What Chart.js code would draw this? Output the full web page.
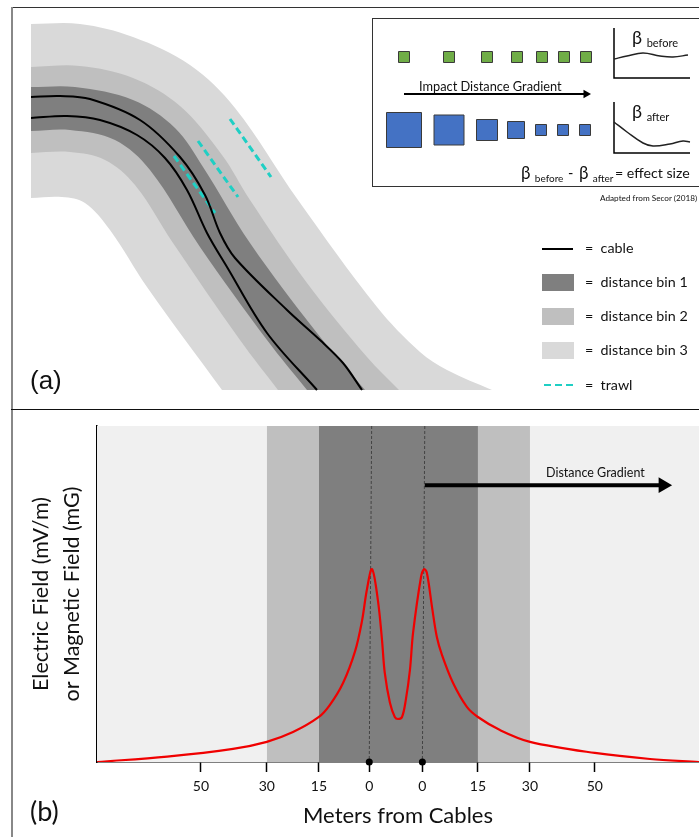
<!DOCTYPE html>
<html>
<head>
<meta charset="utf-8">
<script src="https://cdn.jsdelivr.net/npm/chart.js@4"></script>
<style>
  html, body { margin:0; padding:0; background:#fff; }
  #page { position:relative; width:699px; height:837px; overflow:hidden; font-family:Lato, sans-serif; color:#111; }
  canvas { position:absolute; left:0; }
  .t { position:absolute; white-space:nowrap; line-height:1; }
  .t sub { vertical-align:-0.3em; line-height:0; }
  .rule { position:absolute; }
  .sw { position:absolute; left:542px; width:32px; height:17px; }
</style>
</head>
<body>
<div id="page">
  <div class="rule" style="left:11px;top:7px;width:688px;height:1px;background:#333"></div>
  <div class="rule" style="left:11px;top:7px;width:2px;height:830px;background:#888"></div>
  <div class="rule" style="left:11px;top:409px;width:688px;height:1px;background:#111"></div>
  <div class="rule" style="left:372px;top:18px;width:327px;height:169px;border:1px solid #333;border-right:none;box-sizing:border-box"></div>

  <canvas id="mapChart" width="699" height="410" style="top:0"></canvas>
  <canvas id="fieldChart" width="699" height="427" style="top:410px"></canvas>

  <div class="t" style="left:632px;top:28px;font-size:18px">β <sub style="font-size:11px">before</sub></div>
  <div class="t" style="left:632px;top:102px;font-size:18px">β <sub style="font-size:11px">after</sub></div>
  <div class="t" style="left:419px;top:80px;font-size:12.8px">Impact Distance Gradient</div>
  <div class="t" style="left:521px;top:164px;font-size:17px">β <sub style="font-size:10px">before</sub></div>
  <div class="t" style="left:568px;top:166px;font-size:14.5px">-</div>
  <div class="t" style="left:579px;top:164px;font-size:17px">β <sub style="font-size:10px">after</sub></div>
  <div class="t" style="left:615px;top:166px;font-size:14.2px">= effect size</div>
  <div class="t" style="left:600px;top:194px;font-size:8.2px">Adapted from Secor (2018)</div>

  <div class="sw" style="top:274px;background:#7f7f7f"></div>
  <div class="sw" style="top:308px;background:#bfbfbf"></div>
  <div class="sw" style="top:342px;background:#d9d9d9"></div>
  <div class="rule" style="left:542px;top:248px;width:31px;height:2px;background:#000"></div>
  <div class="rule" style="left:544px;top:384px;width:29px;height:2px;background:repeating-linear-gradient(90deg,#1fcfc4 0 7px,transparent 7px 11px)"></div>
  <div class="t" style="left:585px;top:241px;font-size:14.3px">=&nbsp;&nbsp;cable</div>
  <div class="t" style="left:585px;top:275px;font-size:14.3px">=&nbsp;&nbsp;distance bin 1</div>
  <div class="t" style="left:585px;top:309px;font-size:14.3px">=&nbsp;&nbsp;distance bin 2</div>
  <div class="t" style="left:585px;top:343px;font-size:14.3px">=&nbsp;&nbsp;distance bin 3</div>
  <div class="t" style="left:585px;top:378px;font-size:14.3px">=&nbsp;&nbsp;trawl</div>

  <div class="t" style="left:30px;top:367px;font-size:26px;font-family:'Liberation Sans'">(a)</div>
  <div class="t" style="left:30px;top:797px;font-size:27px">(b)</div>
  <div class="t" style="left:546px;top:467px;font-size:12.5px">Distance Gradient</div>
</div>

<script>
// panel (a) in map units
var bin3Upper = [[31,24],[80,24],[133,37],[190,65],[235,108],[298,200],[377,307],[420,352],[447,370],[492,390]];
var bin3Lower = [[31,198],[62,197],[85,203],[110,230],[147,287],[222,390]];
var bin2Upper = [[31,67],[80,66],[133,78],[180,106],[222,155],[250,200],[307,283],[367,357],[399,390]];
var bin2Lower = [[31,153],[70,152],[105,160],[135,185],[173,243],[240,340],[278,390]];
var bin1Upper = [[31,87],[75,87],[133,100],[175,128],[203,167],[250,243],[317,333],[365,390]];
var bin1Lower = [[31,131],[70,130],[115,140],[150,170],[200,247],[267,340],[307,390]];
var cableA = [[31,97],[60,96],[90,99],[140,120],[180,157],[205,195],[220,233],[235,258],[287,310],[320,340],[343,363],[362,390]];
var cableB = [[31,118],[67,116],[100,120],[137,135],[165,158],[187,190],[207,233],[227,267],[267,333],[317,390]];
var trawls = [[[230,119],[271,177]],[[198,141],[238,197]],[[174,156],[215,213]]];

// inset
var greenX = [404,449,487,517,542,564,586];
var greenY = 57;
var greenSize = [11,11,11,11,11,11,11];
var blueX = [404,449,487,516,541,563,585];
var blueY = 130;
var blueSize = [35,30,21,17,11,11,11];
var betaBefore = [[614,59],[627,56],[643,53],[660,56],[673,57],[688,55]];
var betaAfter = [[614,122],[627,132],[643,143],[653,146],[670,144],[683,141],[690,142]];
var gradientArrow = [[404,94],[586,94]];

// panel (b): metres from the left cable, field in arbitrary units
var fieldX = [-79.1,-58.8,-39.7,-29.9,-22.3,-14.8,-11.6,-7.8,-4.3,-2.3,-0.9,0.6,2.3,3.5,4.3,5.8,7.2,8.1,9.3,10.4,11.6,12.5,14.8,15.7,16.5,18,19.4,20.9,24.1,28.1,31.3,37.7,46.4,65.2,81.2,95.4];
var fieldY = [0,1.6,3.9,6,8.9,13.4,17,23.5,33,42,51.2,57.4,48.2,36.3,26.5,17.6,13.4,12.8,13.4,18.5,27.4,38.4,55,57.4,56.3,46.1,37.2,31.8,23.5,16.4,13.4,9.5,6,2.7,0.9,0];
var tickValues = [-49,-29.9,-14.8,-0.2,15.2,31.3,46.4,65.2];
var tickLabels = ['50','30','15','0','0','15','30','50'];
var bin1Edges = [-14.8,31.3];
var bin2Edges = [-29.9,46.4];
var cableTop = [0.5,15.9];
var cableFoot = [-0.2,15.2];
var xMin = -79.13, xMax = 95.4, yTop = 100;

function pts(list) {
  return list.map(function (p) { return { x: p[0], y: p[1] }; });
}

// duplicated corners keep the spline from bowing along the cut ends
function band(upper, lower) {
  var u = pts(upper), l = pts(lower).reverse();
  return [u[0]].concat(u, [u[u.length - 1], l[0]], l, [l[l.length - 1]]);
}

function bandSet(upper, lower, color, order) {
  return { data: band(upper, lower), showLine: true, fill: 'shape', backgroundColor: color, borderWidth: 0, pointRadius: 0, tension: 0.35, order: order };
}

function lineSet(list, color, width, order, dash, tension) {
  return { data: pts(list), showLine: true, fill: false, borderColor: color, borderWidth: width, borderDash: dash || [], pointRadius: 0, tension: tension || 0, order: order };
}

function squares(xs, y, sizes, color) {
  return {
    data: xs.map(function (x) { return { x: x, y: y }; }),
    pointStyle: 'rect',
    pointRadius: sizes.map(function (s) { return s / Math.SQRT2; }),
    backgroundColor: color,
    borderColor: '#3a3a3a',
    borderWidth: 1,
    order: 1
  };
}

var bareOptions = {
  responsive: false,
  animation: false,
  events: [],
  plugins: { legend: { display: false }, tooltip: { enabled: false } }
};

var mapSets = [
  bandSet(bin3Upper, bin3Lower, '#d9d9d9', 9),
  bandSet(bin2Upper, bin2Lower, '#bfbfbf', 8),
  bandSet(bin1Upper, bin1Lower, '#7f7f7f', 7),
  lineSet(trawls[0], '#1fcfc4', 3, 6, [7, 4]),
  lineSet(trawls[1], '#1fcfc4', 3, 6, [7, 4]),
  lineSet(trawls[2], '#1fcfc4', 3, 6, [7, 4]),
  lineSet(cableA, '#000', 2, 5, null, 0.35),
  lineSet(cableB, '#000', 2, 5, null, 0.35),
  squares(greenX, greenY, greenSize, '#70ad47'),
  squares(blueX, blueY, blueSize, '#4472c4'),
  lineSet(betaBefore, '#222', 1.5, 2, null, 0.4),
  lineSet(betaAfter, '#222', 1.5, 2, null, 0.4),
  lineSet([[614,28],[614,78],[690,78]], '#000', 1.5, 2),
  lineSet([[614,102],[614,153],[690,153]], '#000', 1.5, 2),
  lineSet(gradientArrow, '#000', 2, 2),
  { data: pts([gradientArrow[1]]), pointStyle: 'triangle', pointRotation: 90, pointRadius: 5, backgroundColor: '#000', borderWidth: 0, order: 1 }
];

new Chart(document.getElementById('mapChart'), {
  type: 'scatter',
  data: { datasets: mapSets },
  options: Object.assign({}, bareOptions, {
    layout: { autoPadding: false, padding: 0 },
    scales: {
      x: { type: 'linear', display: false, min: 0, max: 699 },
      y: { type: 'linear', display: false, min: 0, max: 410, reverse: true }
    }
  })
});

function spanSet(edges, color, order) {
  return { data: [{ x: edges[0], y: yTop }, { x: edges[1], y: yTop }], showLine: true, fill: 'origin', backgroundColor: color, borderWidth: 0, pointRadius: 0, order: order };
}

var fieldSets = [
  spanSet([xMin, xMax], '#f0f0f0', 9),
  spanSet(bin2Edges, '#bfbfbf', 8),
  spanSet(bin1Edges, '#7f7f7f', 7),
  lineSet([[cableTop[0], yTop], [cableFoot[0], 0]], '#333', 0.8, 6, [3, 2]),
  lineSet([[cableTop[1], yTop], [cableFoot[1], 0]], '#333', 0.8, 6, [3, 2]),
  {
    data: fieldX.map(function (x, i) { return { x: x, y: fieldY[i] }; }),
    showLine: true, borderColor: '#f00000', borderWidth: 2.2, pointRadius: 0,
    tension: 0.35, order: 5
  },
  lineSet([[15.9, 82.4], [85, 82.4]], '#000', 4, 4),
  { data: [{ x: 85, y: 82.4 }], pointStyle: 'triangle', pointRotation: 90, pointRadius: 9, backgroundColor: '#000', borderWidth: 0, order: 3 },
  { data: cableFoot.map(function (x) { return { x: x, y: 0 }; }), pointRadius: 3.5, backgroundColor: '#000', borderWidth: 0, clip: false, order: 2 }
];

new Chart(document.getElementById('fieldChart'), {
  type: 'scatter',
  data: { datasets: fieldSets },
  options: Object.assign({}, bareOptions, {
    layout: { autoPadding: false, padding: { top: 16, right: 0, left: 0, bottom: 0 } },
    scales: {
      x: {
        type: 'linear', min: xMin, max: xMax,
        afterBuildTicks: function (axis) {
          axis.ticks = tickValues.map(function (v) { return { value: v }; });
        },
        afterFit: function (axis) { axis.height = 75; },
        grid: { drawOnChartArea: false, tickLength: 10, tickColor: '#000', tickWidth: 1.5 },
        border: { color: '#000', width: 1.5 },
        ticks: {
          autoSkip: false, maxRotation: 0, padding: 6, color: '#111',
          font: { family: 'Lato', size: 14 },
          callback: function (v, i) { return tickLabels[i]; }
        },
        title: { display: true, text: 'Meters from Cables', color: '#111', font: { family: 'Lato', size: 22 }, padding: { top: 0, bottom: 8 } }
      },
      y: {
        type: 'linear', min: 0, max: yTop,
        afterFit: function (axis) { axis.width = 97; },
        grid: { display: false },
        border: { color: '#000', width: 1.5 },
        ticks: { display: false },
        title: {
          display: true,
          text: ['Electric Field (mV/m)', 'or Magnetic Field (mG)'],
          color: '#111',
          font: { family: 'Lato', size: 21.5, lineHeight: 1.45 },
          padding: { top: 25, bottom: 0 }
        }
      }
    }
  })
});
</script>
</body>
</html>
